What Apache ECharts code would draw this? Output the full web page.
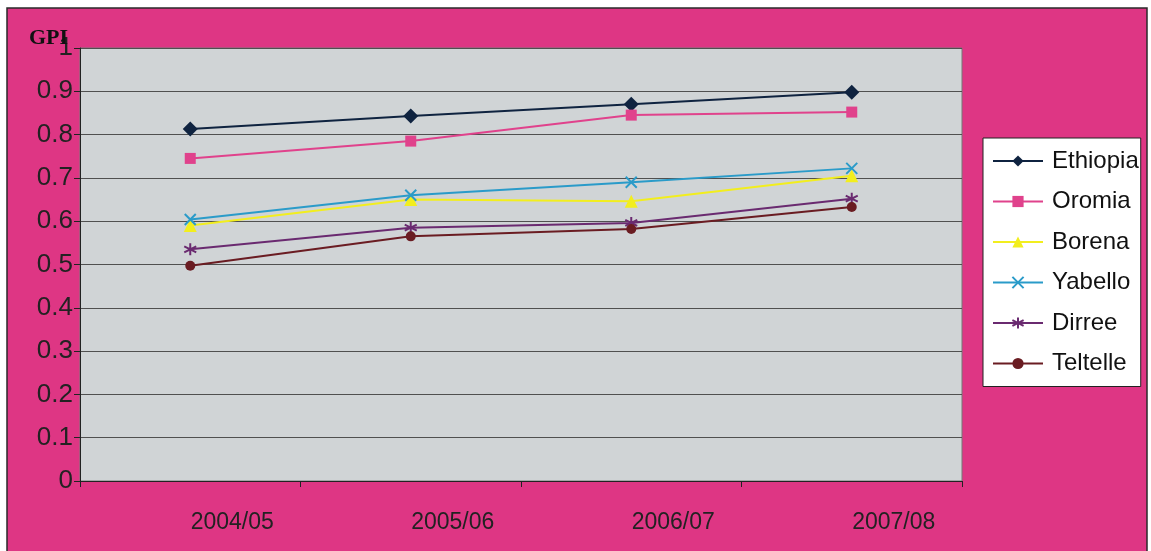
<!DOCTYPE html>
<html>
<head>
<meta charset="utf-8">
<script src="https://cdn.jsdelivr.net/npm/echarts@6/dist/echarts.min.js"></script>
<style>
  html, body { margin: 0; padding: 0; background: #fff; }
  #myCharts { width: 1151px; height: 551px; }
</style>
</head>
<body>
<div id="myCharts"></div>
<script>
// data
var years = ['2004/05', '2005/06', '2006/07', '2007/08'];
var ethiopia = [0.813, 0.843, 0.870, 0.898];
var oromia = [0.745, 0.785, 0.845, 0.852];
var borena = [0.590, 0.650, 0.646, 0.705];
var yabello = [0.604, 0.660, 0.690, 0.722];
var dirree = [0.535, 0.585, 0.596, 0.652];
var teltelle = [0.497, 0.565, 0.582, 0.633];
var yTicks = [0, 0.1, 0.2, 0.3, 0.4, 0.5, 0.6, 0.7, 0.8, 0.9, 1];

var xPath = 'path://M0,0L10,10M10,0L0,10';
var starPath = 'path://M5,0L5,10M0,2.5L10,7.5M0,7.5L10,2.5';

function line(name, data, color, symbol, size, stroke) {
    return {
        name: name,
        type: 'line',
        data: data,
        symbol: symbol,
        symbolSize: size,
        lineStyle: { color: color, width: 2 },
        itemStyle: stroke ? { color: color, borderColor: color, borderWidth: 2 } : { color: color },
        z: 3
    };
}

var myCharts = echarts.init(document.getElementById('myCharts'));
var options = {
    backgroundColor: '#ffffff',
    animation: false,
    graphic: [{
        type: 'rect',
        z: -10,
        shape: { x: 7, y: 8, width: 1140, height: 548 },
        style: { fill: '#DE3684', stroke: '#2a2a2a', lineWidth: 1.5 }
    }],
    title: {
        text: 'GPI',
        left: 29,
        top: 27,
        padding: 0,
        textStyle: { fontFamily: 'Liberation Serif', fontWeight: 'bold', fontSize: 22, color: '#111' }
    },
    grid: {
        left: 80, right: 189, top: 48, bottom: 70,
        show: true,
        backgroundColor: '#D0D4D6',
        borderColor: '#777',
        borderWidth: 1
    },
    legend: {
        orient: 'vertical',
        left: 983,
        top: 138,
        backgroundColor: '#ffffff',
        borderColor: '#222',
        borderWidth: 1,
        padding: [11, 2, 11, 9],
        itemWidth: 50,
        itemHeight: 14,
        itemGap: 16.5,
        textStyle: { fontFamily: 'Liberation Sans', fontSize: 24, color: '#111', padding: [0, 0, 0, 4] },
        data: ['Ethiopia', 'Oromia', 'Borena', 'Yabello', 'Dirree', 'Teltelle']
    },
    xAxis: {
        type: 'category',
        boundaryGap: true,
        data: years,
        axisLine: { lineStyle: { color: '#222', width: 1 } },
        axisTick: { show: true, length: 6, lineStyle: { color: '#222' } },
        axisLabel: {
            margin: 30,
            padding: [0, 0, 0, 84],
            fontFamily: 'Liberation Sans', fontSize: 23, color: '#222'
        }
    },
    yAxis: {
        type: 'value',
        min: yTicks[0],
        max: yTicks[yTicks.length - 1],
        interval: 0.1,
        axisLine: { show: true, lineStyle: { color: '#222', width: 1 } },
        axisTick: { show: true, length: 6, lineStyle: { color: '#222' } },
        splitLine: { lineStyle: { color: '#505050', width: 1 } },
        axisLabel: {
            margin: 7,
            fontFamily: 'Liberation Sans', fontSize: 26, color: '#222',
            formatter: function (v) { return String(Math.round(v * 10) / 10); }
        }
    },
    series: [
        line('Ethiopia', ethiopia, '#0F2340', 'diamond', 15),
        line('Oromia', oromia, '#E0428C', 'rect', 11),
        line('Borena', borena, '#F2EE1E', 'triangle', 13),
        line('Yabello', yabello, '#2A9BC9', xPath, 11, true),
        line('Dirree', dirree, '#6A2A70', starPath, 12, true),
        line('Teltelle', teltelle, '#6A1C22', 'circle', 10)
    ]
};
myCharts.setOption(options);
</script>
</body>
</html>
